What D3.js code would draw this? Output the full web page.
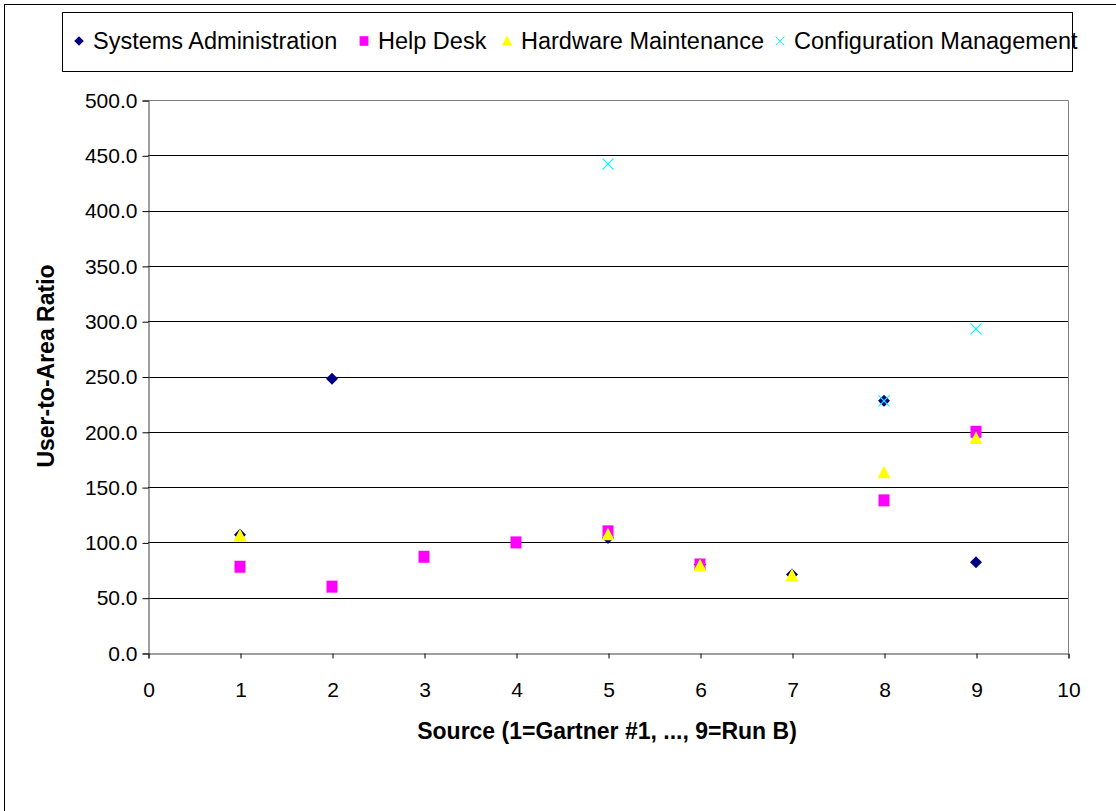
<!DOCTYPE html>
<html>
<head>
<meta charset="utf-8">
<script src="https://cdn.jsdelivr.net/npm/d3@7"></script>
<style>
  body { margin: 0; background: #fff; }
  text { font-family: "Liberation Sans", Arial, sans-serif; }
</style>
</head>
<body>
<svg width="1116" height="811"></svg>
<script>
// data
const sysAdmin = [[1, 107], [2, 248], [5, 104], [6, 80], [7, 71], [8, 228], [9, 82]];
const helpDesk = [[1, 78], [2, 60], [3, 87], [4, 100], [5, 110], [6, 80], [8, 138], [9, 200]];
const hardware = [[1, 106], [5, 107], [6, 79], [7, 70], [8, 163], [9, 194]];
const configMgmt = [[5, 442], [8, 228], [9, 293]];

const seriesNames = ["Systems Administration", "Help Desk", "Hardware Maintenance", "Configuration Management"];
const xTicks = [0, 1, 2, 3, 4, 5, 6, 7, 8, 9, 10];
const yTicks = [0, 50, 100, 150, 200, 250, 300, 350, 400, 450, 500];

const svg = d3.select("svg");

// outer chart border (runs off the page on the right and bottom)
svg.append("rect")
    .attr("x", 4.5).attr("y", 4.5)
    .attr("width", 1200).attr("height", 900)
    .attr("fill", "none").attr("stroke", "#000");

const x = d3.scaleLinear().domain([0, 10]).range([148, 1068]);
const y = d3.scaleLinear().domain([0, 500]).range([653, 100]);

// gridlines
svg.append("g")
    .selectAll("line")
    .data(yTicks.slice(1))
    .join("line")
      .attr("x1", x(0)).attr("x2", x(10))
      .attr("y1", d => Math.round(y(d)) + 0.5)
      .attr("y2", d => Math.round(y(d)) + 0.5)
      .attr("stroke", "#000");

// plot area right/top edge
svg.append("path")
    .attr("d", `M${x(0)},${Math.round(y(500)) + 0.5}H${x(10) + 0.5}V${y(0)}`)
    .attr("fill", "none").attr("stroke", "#808080");

// axes
const yAxis = d3.axisLeft(y)
    .tickValues(yTicks)
    .tickFormat(d3.format(".1f"))
    .tickSize(6).tickPadding(5);
const gy = svg.append("g")
    .attr("transform", `translate(${x(0) + 0.5},0.5)`)
    .call(yAxis);
gy.select(".domain").attr("stroke", "#404040");
gy.selectAll("text").attr("font-size", 21).attr("fill", "#000");

const xAxis = d3.axisBottom(x)
    .tickValues(xTicks)
    .tickSize(5).tickPadding(24);
const gx = svg.append("g")
    .attr("transform", `translate(0.5,${Math.round(y(0)) + 0.5})`)
    .call(xAxis);
gx.select(".domain").attr("stroke", "#404040");
gx.selectAll("text").attr("font-size", 21).attr("fill", "#000");

// axis titles
svg.append("text")
    .attr("x", 607).attr("y", 739)
    .attr("text-anchor", "middle")
    .attr("font-size", 23).attr("font-weight", "bold")
    .text("Source (1=Gartner #1, ..., 9=Run B)");

svg.append("text")
    .attr("transform", "translate(54,366) rotate(-90)")
    .attr("text-anchor", "middle")
    .attr("font-size", 23).attr("font-weight", "bold")
    .text("User-to-Area Ratio");

// markers
const diamond = "M0,-6L6,0L0,6L-6,0Z";
const square = "M-5.5,-6H5.5V6H-5.5Z";
const triangle = "M0,-7L6.5,5.5H-6.5Z";
const cross = "M-5.5,-5.5L5.5,5.5M5.5,-5.5L-5.5,5.5";

const series = [
  { data: sysAdmin, path: diamond, fill: "#000080", stroke: "none" },
  { data: helpDesk, path: square, fill: "#ff00ff", stroke: "none" },
  { data: hardware, path: triangle, fill: "#ffff00", stroke: "none" },
  { data: configMgmt, path: cross, fill: "none", stroke: "#00ffff" }
];

series.forEach(s => {
  svg.append("g")
      .selectAll("path")
      .data(s.data)
      .join("path")
        .attr("transform", d => `translate(${x(d[0])},${y(d[1])})`)
        .attr("d", s.path)
        .attr("fill", s.fill)
        .attr("stroke", s.stroke)
        .attr("stroke-width", 1.2);
});

// legend
svg.append("rect")
    .attr("x", 62.5).attr("y", 12.5)
    .attr("width", 1010).attr("height", 59)
    .attr("fill", "#fff").attr("stroke", "#000");

const legendX = [79, 364, 507, 780];
const legend = svg.append("g")
    .selectAll("g")
    .data(series)
    .join("g")
      .attr("transform", (d, i) => `translate(${legendX[i]},41)`);

legend.append("path")
    .attr("d", d => d.path)
    .attr("transform", "scale(0.8)")
    .attr("fill", d => d.fill)
    .attr("stroke", d => d.stroke)
    .attr("stroke-width", 1.2);

legend.append("text")
    .attr("x", 14).attr("y", 8)
    .attr("font-size", 23.5)
    .text((d, i) => seriesNames[i]);
</script>
</body>
</html>
